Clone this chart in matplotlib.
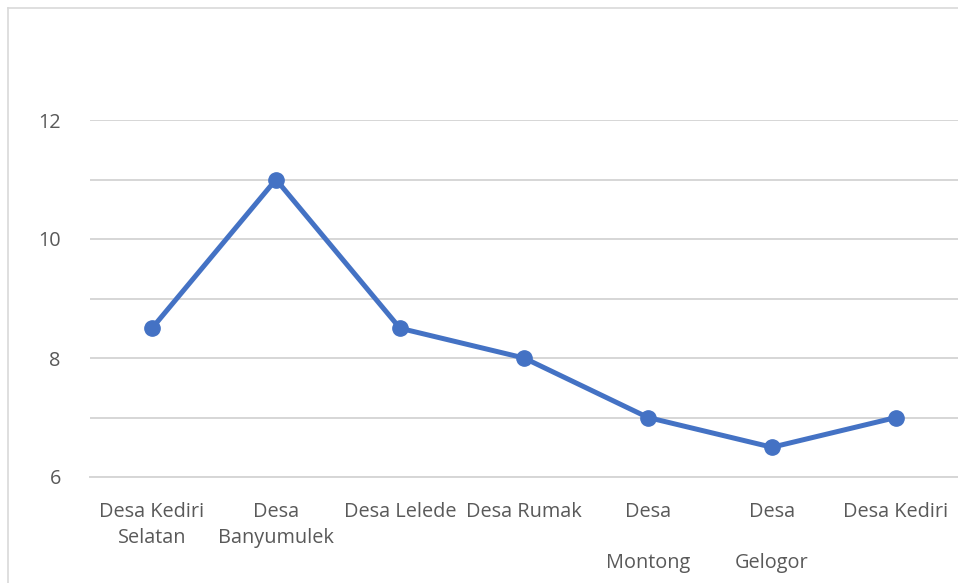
import matplotlib
matplotlib.use("Agg")
import matplotlib.pyplot as plt
from matplotlib.lines import Line2D

categories = ["Desa Kediri\nSelatan", "Desa\nBanyumulek", "Desa Lelede", "Desa Rumak",
              "Desa\n\nMontong", "Desa\n\nGelogor", "Desa Kediri"]
values = [8.5, 11, 8.5, 8, 7, 6.5, 7]
y_ticks = [6, 8, 10, 12]

W, H = 958, 583
fig = plt.figure(figsize=(W / 100, H / 100), dpi=100)
plt.rcParams['font.family'] = ['Open Sans', 'DejaVu Sans']

# chart frame (left and top edges)
fx0, fy0 = 8 / W, 1 - 8 / H
fig.add_artist(Line2D([fx0, fx0], [0, fy0], transform=fig.transFigure, color="#D9D9D9", lw=1.2))
fig.add_artist(Line2D([fx0, 1], [fy0, fy0], transform=fig.transFigure, color="#D9D9D9", lw=1.2))

left, right = 90 / W, 1.0
top, bottom = 1 - 120 / H, 1 - 477 / H
ax = fig.add_axes([left, bottom, right - left, top - bottom])

x = list(range(len(categories)))
ax.plot(x, values, color="#4472C4", lw=3.6, marker="o", markersize=11,
        solid_capstyle="round", zorder=3, clip_on=False)

ax.set_xlim(-0.5, len(categories) - 0.5)
ax.set_ylim(6, 12)
ax.set_yticks(y_ticks)
ax.set_yticks([7, 9, 11], minor=True)
ax.grid(axis="y", which="both", color="#D6D6D6", lw=1.4)
ax.set_axisbelow(True)
for s in ["top", "right", "left"]:
    ax.spines[s].set_visible(False)
ax.spines["bottom"].set_color("#D6D6D6")
ax.spines["bottom"].set_linewidth(1.4)

ax.set_xticks(x)
ax.set_xticklabels(categories, linespacing=1.38)
ax.tick_params(axis="x", length=0, pad=18, labelsize=14.3, labelcolor="#595959")
ax.tick_params(axis="y", which="both", length=0, pad=21, labelsize=14.3, labelcolor="#595959")

fig.savefig("out.png", dpi=100)
